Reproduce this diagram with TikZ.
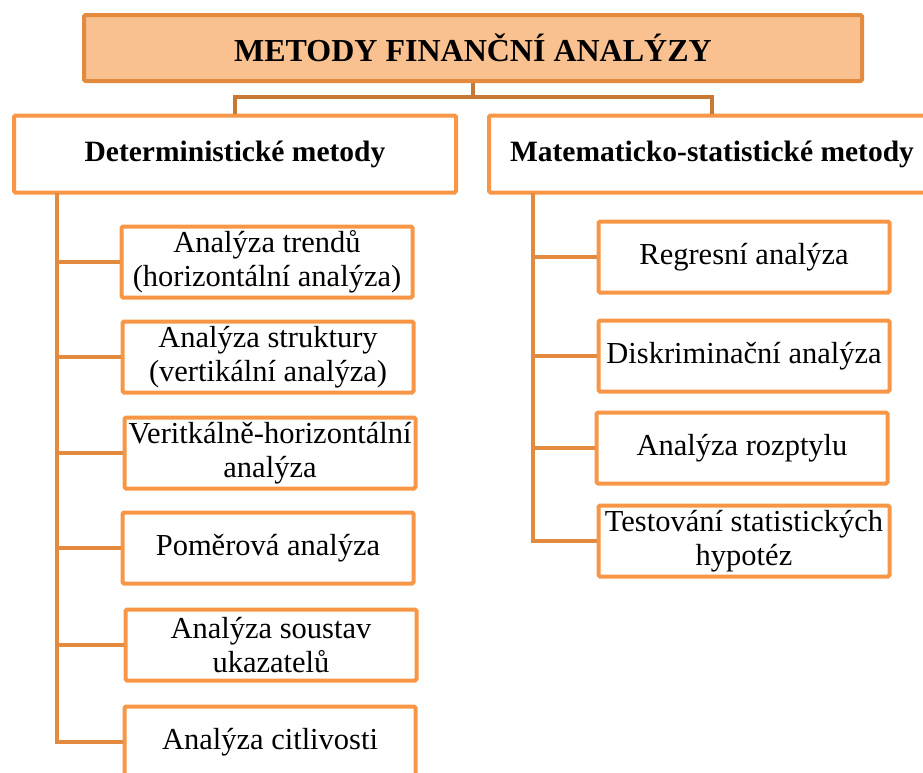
\documentclass[tikz,border=0pt]{standalone}
\usepackage{fontspec}
\setmainfont{Liberation Serif}
\usetikzlibrary{positioning}
\definecolor{titlefill}{HTML}{F9C18F}
\definecolor{titleline}{HTML}{E38A3F}
\definecolor{boxline}{HTML}{F79646}
\definecolor{forkline}{HTML}{C77835}
\definecolor{trunkline}{HTML}{E38A3F}

\begin{document}
\begin{tikzpicture}[
    x=1pt, y=-1pt,
    head/.style={draw=titleline, fill=titlefill, line width=4pt, rounded corners=1.5pt, minimum width=778pt, minimum height=66pt, inner sep=0pt, font=\fontsize{32}{38}\selectfont\bfseries},
    group/.style={draw=boxline, fill=white, line width=4pt, rounded corners=1.5pt, minimum height=77pt, inner sep=0pt, font=\fontsize{29.5}{35}\selectfont\bfseries},
    item/.style={draw=boxline, fill=white, line width=4pt, rounded corners=1.5pt, minimum width=291pt, minimum height=71pt, inner sep=0pt, align=center, font=\fontsize{30.5}{34}\selectfont},
    fork/.style={draw=forkline, line width=4pt},
    link/.style={draw=trunkline, line width=4pt}
]
\useasboundingbox (0,0) rectangle (923,772);
\clip (0,0) rectangle (923,772);

\node[head] (title) at (473,48) {METODY FINANČNÍ ANALÝZY};
\node[group, minimum width=442pt] (det) at (235,154) {Deterministické metody};
\node[group, minimum width=446pt] (mat) at (712,154) {Matematicko-statistické metody};

% left branch
\node[item] (a1) at (267,262) {Analýza trendů\\(horizontální analýza)};
\node[item] (a2) at (268,357) {Analýza struktury\\(vertikální analýza)};
\node[item] (a3) at (270,453) {Veritkálně-horizontální\\analýza};
\node[item] (a4) at (268,548) {Poměrová analýza};
\node[item] (a5) at (271,645) {Analýza soustav\\ukazatelů};
\node[item] (a6) at (270,742) {Analýza citlivosti};

% right branch
\node[item] (r1) at (744,257) {Regresní analýza};
\node[item] (r2) at (744,356) {Diskriminační analýza};
\node[item] (r3) at (742,448) {Analýza rozptylu};
\node[item] (r4) at (744,541) {Testování statistických\\hypotéz};

% connectors
\coordinate (split) at (473,97);
\draw[fork] (title.south) -- (split);
\draw[fork] (split) -| (det.north);
\draw[fork] (split) -| (mat.north);

\coordinate (lt) at (57,193);
\coordinate (rt) at (533,193);
\foreach \n in {a1,a2,a3,a4,a5,a6}
    \draw[link] (lt) |- (\n.west);
\foreach \n in {r1,r2,r3,r4}
    \draw[link] (rt) |- (\n.west);

\end{tikzpicture}
\end{document}
